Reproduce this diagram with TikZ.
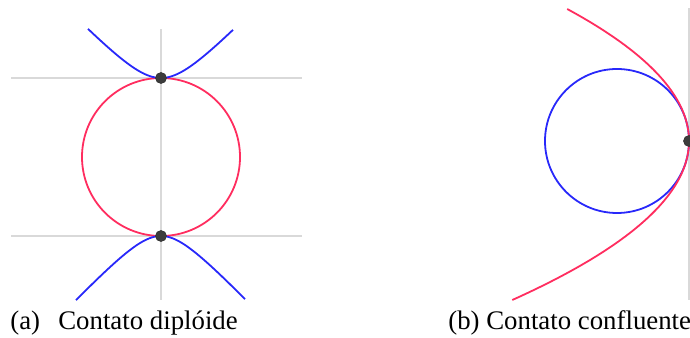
\documentclass[tikz,border=0pt]{standalone}
\usepackage{fontspec}
\setmainfont{Liberation Serif}
\newfontfamily\capfont{Liberation Serif}
\usepackage{xcolor}
\usepackage{tikz}

\definecolor{curvered}{RGB}{255,45,95}
\definecolor{curveblue}{RGB}{40,40,250}
\definecolor{guidegray}{RGB}{217,217,217}
\definecolor{dotgray}{RGB}{60,60,60}

\begin{document}
\begin{tikzpicture}[
  x=0.5pt, y=0.5pt,
  guide/.style={draw=guidegray, line width=0.75pt},
  redcurve/.style={draw=curvered, line width=0.9pt},
  bluecurve/.style={draw=curveblue, line width=0.9pt},
  contact/.style={circle, fill=dotgray, draw=black!80, line width=0.3pt,
    inner sep=0pt, minimum size=5.5pt},
  caption/.style={anchor=base west, inner sep=0pt,
    font=\capfont\fontsize{13.4}{16}\selectfont}]

  \useasboundingbox (0,0) rectangle (690,337);
  \clip (0,0) rectangle (690,337);

  % (a) diploid contact
  \coordinate (ptop) at (161,259);
  \coordinate (pbot) at (161,101);
  \draw[guide] (161,37) -- (161,308);
  \draw[guide] (11,259) -- (302,259);
  \draw[guide] (11,101) -- (302,101);
  \draw[redcurve] (161,180) circle[radius=79];
  \draw[bluecurve] plot[domain=-73:72, samples=120]
    ({161+\x}, {259+34.4*(sqrt(1+(\x/33)^2)-1)});
  \draw[bluecurve] plot[domain=-85:84, samples=120]
    ({161+\x}, {101-32*(sqrt(1+(\x/30)^2)-1)});
  \node[contact] (dtop) at (ptop) {};
  \node[contact] (dbot) at (pbot) {};

  % (b) confluent contact
  \coordinate (pcon) at (689,196);
  \draw[guide] (689,37) -- (689,329);
  \draw[bluecurve] (617,196) circle[radius=72];
  \draw[redcurve] plot[domain=-159:132, samples=150]
    ({689-0.699*(\x/10)^2}, {196+\x});
  \node[contact] (dcon) at (pcon) {};

  \node[caption] (capa) at (10,7) {(a)\hspace{0.68em}Contato diplóide};
  \node[caption] (capb) at (448,7) {(b) Contato confluente};
\end{tikzpicture}
\end{document}
